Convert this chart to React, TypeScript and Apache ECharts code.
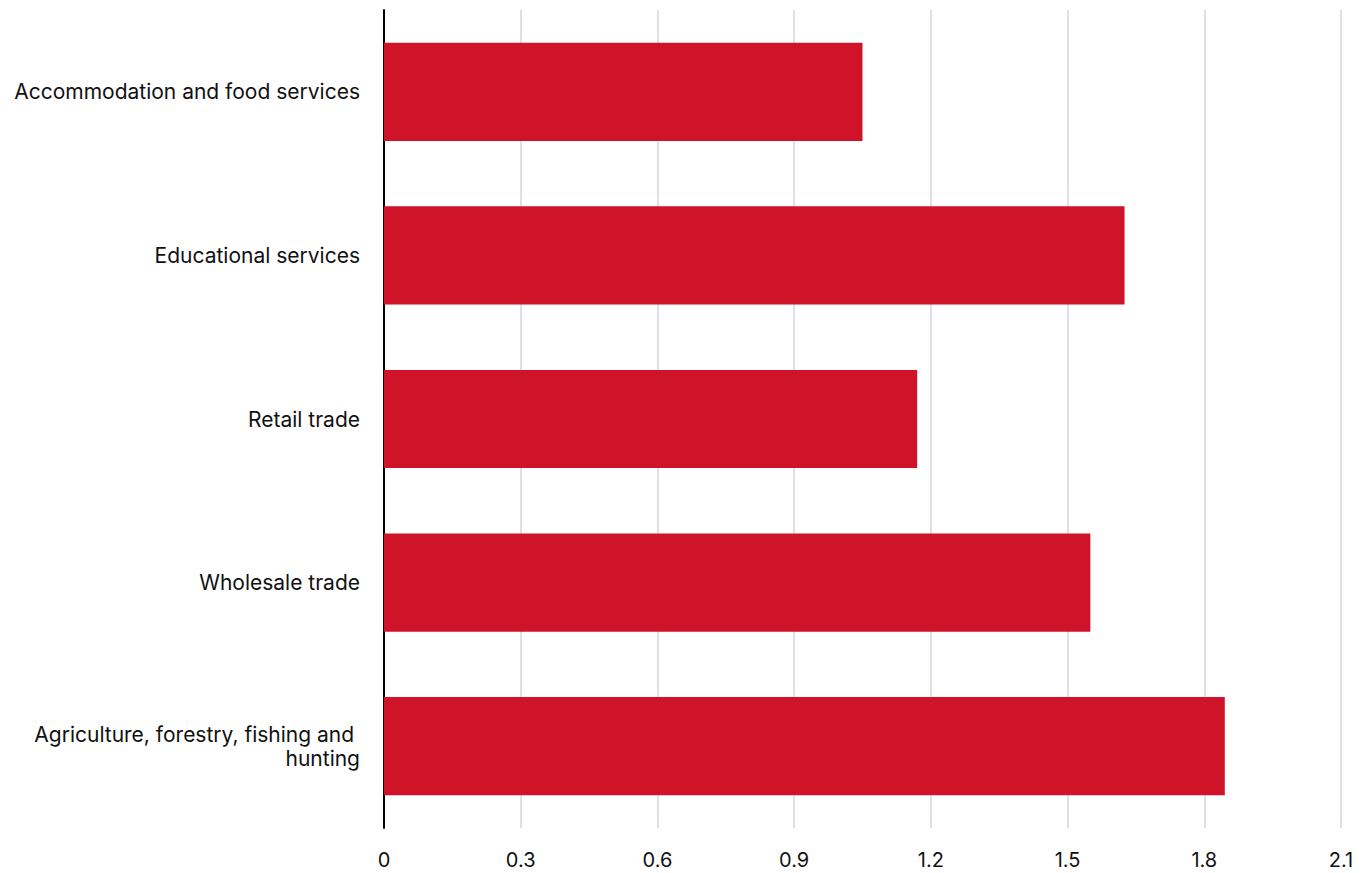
import React, { useEffect, useRef } from "react";
import * as echarts from "echarts";

const categories = [
  "Agriculture, forestry, fishing and \nhunting",
  "Wholesale trade",
  "Retail trade",
  "Educational services",
  "Accommodation and food services",
];
const values = [1.845, 1.55, 1.17, 1.625, 1.05];
const xTicks = { min: 0, max: 2.1, interval: 0.3 };

export default function App() {
  const ref = useRef<HTMLDivElement>(null);
  useEffect(() => {
    if (!ref.current) return;
    const chart = echarts.init(ref.current, null, { renderer: "svg" });
    chart.setOption({
      animation: false,
      backgroundColor: "#ffffff",
      grid: { left: 384, right: 27, top: 10, bottom: 45, containLabel: false },
      xAxis: {
        type: "value",
        min: xTicks.min,
        max: xTicks.max,
        interval: xTicks.interval,
        axisLine: { show: false },
        axisTick: { show: false },
        splitLine: { show: true, lineStyle: { color: "#dde0e6", width: 2 } },
        axisLabel: {
          color: "#111111",
          fontFamily: "Inter",
          fontSize: 20,
          margin: 22,
          formatter: (v: number) => String(Math.round(v * 10) / 10),
        },
      },
      yAxis: {
        type: "category",
        data: categories,
        axisLine: { show: true, onZero: false, lineStyle: { color: "#000000", width: 2 } },
        axisTick: { show: false },
        axisLabel: {
          color: "#111111",
          fontFamily: "Inter",
          fontSize: 21,
          margin: 24,
          lineHeight: 24,
          align: "right",
        },
      },
      series: [
        {
          type: "bar",
          data: values,
          barCategoryGap: "40%",
          itemStyle: { color: "#cf1329" },
          z: 1,
        },
      ],
    });
    return () => chart.dispose();
  }, []);
  return (
    <div style={{ position: "fixed", left: 0, top: 0 }}>
      <div ref={ref} style={{ width: 1368, height: 873 }} />
    </div>
  );
}
